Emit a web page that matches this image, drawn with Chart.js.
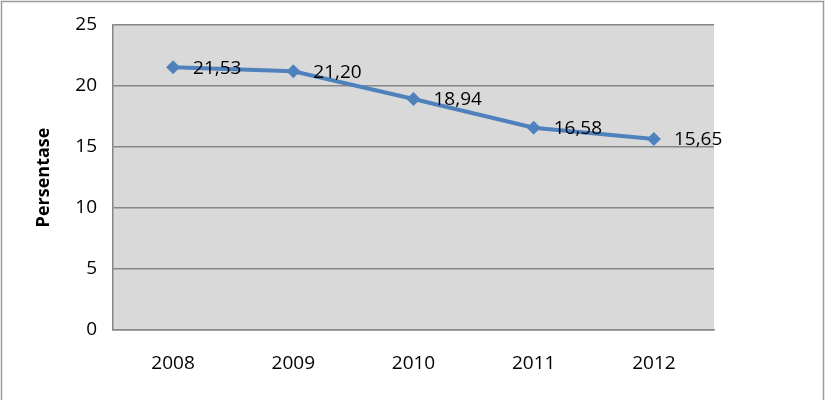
<!DOCTYPE html>
<html>
<head>
<meta charset="utf-8">
<script src="https://cdn.jsdelivr.net/npm/chart.js@4"></script>
<style>
html,body{margin:0;padding:0;background:#fff;}
#wrap{width:828px;height:400px;position:relative;}
</style>
</head>
<body>
<div id="wrap"><canvas id="c" width="828" height="400"></canvas></div>
<script>
const categories = ['2008', '2009', '2010', '2011', '2012'];
const persentase = [21.53, 21.20, 18.94, 16.58, 15.65];
const dataLabels = ['21,53', '21,20', '18,94', '16,58', '15,65'];
const yTicks = [0, 5, 10, 15, 20, 25];
const yTitle = 'Persentase';

const FONT = "'Open Sans', 'Liberation Sans', sans-serif";

const plotBg = {
  id: 'plotBg',
  beforeDraw(chart) {
    const {ctx, chartArea: a} = chart;
    ctx.save();
    ctx.fillStyle = '#ffffff';
    ctx.fillRect(0, 0, chart.width, chart.height);
    ctx.fillStyle = '#d9d9d9';
    ctx.fillRect(a.left, a.top, a.right - a.left, a.bottom - a.top);
    ctx.strokeStyle = '#9a9a9a';
    ctx.lineWidth = 1.5;
    ctx.strokeRect(1.5, 1.5, 822, 410);
    ctx.restore();
  }
};

const labelPlugin = {
  id: 'valLabels',
  afterDatasetsDraw(chart) {
    const {ctx} = chart;
    const meta = chart.getDatasetMeta(0);
    ctx.save();
    ctx.font = '19px ' + FONT;
    ctx.fillStyle = '#000';
    ctx.textAlign = 'left';
    ctx.textBaseline = 'middle';
    meta.data.forEach((pt, i) => {
      ctx.fillText(dataLabels[i], pt.x + 20, pt.y + 1);
    });
    ctx.restore();
  }
};

new Chart(document.getElementById('c'), {
  type: 'line',
  data: {
    labels: categories,
    datasets: [{
      data: persentase,
      borderColor: '#4f81bd',
      backgroundColor: '#4f81bd',
      borderWidth: 4,
      pointStyle: 'rectRot',
      pointRadius: 7,
      pointHoverRadius: 7,
      pointBorderWidth: 0,
      tension: 0,
      fill: false
    }]
  },
  options: {
    responsive: false,
    animation: false,
    devicePixelRatio: 1,
    layout: {padding: {left: 20, right: 114, top: 25, bottom: 0}},
    plugins: {legend: {display: false}, tooltip: {enabled: false}},
    scales: {
      x: {
        offset: true,
        grid: {display: false, drawTicks: false},
        border: {display: true, color: '#868686', width: 1.5},
        ticks: {color: '#000', font: {family: FONT, size: 19}, padding: 22},
        afterFit(s) { s.height = 70; }
      },
      y: {
        min: 0, max: 25,
        afterBuildTicks(s) { s.ticks = yTicks.map(v => ({value: v})); },
        grid: {color: '#868686', lineWidth: 1.5, drawTicks: false},
        border: {display: true, color: '#868686', width: 1.5},
        ticks: {color: '#000', font: {family: FONT, size: 19}, padding: 16},
        title: {display: true, text: yTitle, color: '#000', font: {family: FONT, size: 18, weight: 'bold'}, padding: {top: 13, bottom: 0}},
        afterFit(s) { s.width = 93; s.paddingTop = 0; s.paddingBottom = 0; }
      }
    }
  },
  plugins: [plotBg, labelPlugin]
});
</script>
</body>
</html>
